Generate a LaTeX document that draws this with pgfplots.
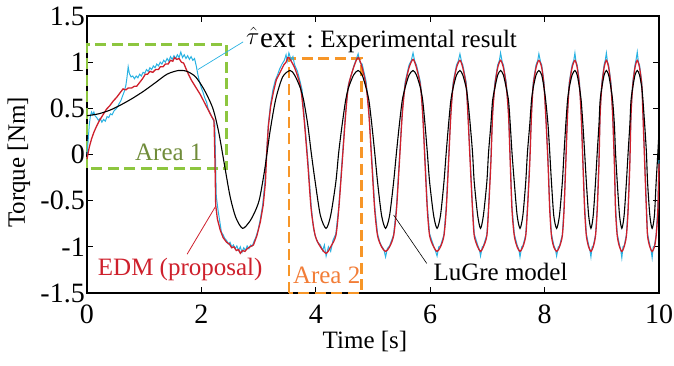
\documentclass[border=0pt]{standalone}
\usepackage{fontspec}
\setmainfont{Liberation Serif}
\usepackage{pgfplots}
\pgfplotsset{compat=1.18}
\definecolor{cexp}{RGB}{41,178,226}
\definecolor{cedm}{RGB}{206,32,44}
\definecolor{cgreen}{RGB}{141,198,63}
\definecolor{cgreentext}{RGB}{112,140,58}
\definecolor{corange}{RGB}{247,150,40}
\definecolor{corangetext}{RGB}{242,125,55}
\begin{document}
\begin{tikzpicture}
\useasboundingbox (-87pt,-73pt) rectangle (587pt,293pt);
\begin{axis}[
 scale only axis, width=572pt, height=277pt,
 xmin=0,xmax=10,ymin=-1.5,ymax=1.5,
 xtick={0,2,4,6,8,10}, xticklabels={0,2,4,6,8,10},
 ytick={-1.5,-1,-0.5,0,0.5,1,1.5}, yticklabels={-1.5,-1,-0.5,0,0.5,1,1.5},
 tick label style={font=\fontsize{28}{30}\selectfont, inner sep=2pt},
 xticklabel style={anchor=north, yshift=-10pt},
 tick align=inside, major tick length=6pt,
 tick style={black, line width=0.8pt},
 axis line style={line width=1.3pt},
 xlabel={Time [s]}, ylabel={Torque [Nm]},
 label style={font=\fontsize{25}{28}\selectfont},
 xlabel style={at={(axis description cs:0.486,-0.175)}, anchor=center},
 ylabel style={at={(axis description cs:-0.119,0.471)}, anchor=center},
 clip=false,
]
% annotation boxes
\draw[cgreen, line width=2.8pt, dash pattern=on 11pt off 5.5pt] (axis cs:0,-0.15) rectangle (axis cs:2.44,1.19);
\draw[corange, line width=2.8pt, dash pattern=on 11pt off 5.5pt] (axis cs:3.53,-1.5) rectangle (axis cs:4.80,1.04);

% Experimental (cyan)
\addplot[cexp, line width=1pt] coordinates {
(0,0.0)(0.02,0.15)(0.04,0.32)(0.06,0.42)(0.08,0.46)(0.1,0.43)(0.12,0.46)(0.14,0.42)(0.17,0.40)(0.2,0.37)(0.23,0.39)(0.26,0.35)(0.29,0.38)(0.32,0.36)(0.35,0.41)(0.38,0.40)(0.41,0.44)(0.44,0.43)(0.47,0.47)(0.5,0.49)(0.53,0.51)(0.56,0.55)(0.59,0.58)(0.62,0.63)(0.65,0.68)(0.68,0.75)(0.70,0.84)(0.72,0.95)(0.74,0.88)(0.77,0.84)(0.80,0.85)(0.83,0.82)(0.86,0.85)(0.89,0.83)(0.92,0.87)(0.95,0.85)(0.98,0.89)(1.01,0.88)(1.04,0.92)(1.07,0.90)(1.10,0.94)(1.13,0.92)(1.16,0.96)(1.19,0.94)(1.22,0.98)(1.25,0.96)(1.28,1.0)(1.31,0.98)(1.34,1.02)(1.37,1.0)(1.40,1.04)(1.43,1.01)(1.46,1.06)(1.49,1.03)(1.52,1.07)(1.55,1.04)(1.58,1.08)(1.61,1.05)(1.64,1.11)(1.67,1.05)(1.70,1.08)(1.73,1.04)(1.76,1.07)(1.79,1.03)(1.82,1.06)(1.85,1.02)(1.88,1.04)(1.91,0.96)(1.94,0.86)(1.97,0.78)(2.0,0.72)(2.03,0.67)(2.06,0.61)(2.09,0.57)(2.12,0.49)(2.15,0.45)(2.18,0.41)(2.21,0.37)(2.235,0.33)(2.245,0.0)(2.26,-0.45)(2.29,-0.60)(2.32,-0.72)(2.35,-0.84)(2.38,-0.87)(2.41,-0.91)(2.44,-0.93)(2.47,-0.97)(2.50,-0.95)(2.53,-1.0)(2.56,-0.98)(2.59,-1.02)(2.62,-0.99)(2.65,-1.04)(2.68,-1.0)(2.71,-1.06)(2.74,-1.01)(2.77,-1.04)(2.80,-0.99)(2.83,-1.02)(2.86,-0.98)(2.89,-0.99)(2.92,-0.94)(2.95,-0.90)(2.99,-0.82)(3.03,-0.70)(3.07,-0.55)(3.11,-0.3)(3.14,0.02)(3.17,0.33)(3.21,0.55)(3.25,0.70)(3.29,0.80)(3.33,0.86)(3.37,0.93)(3.41,0.98)(3.45,1.02)(3.48,1.08)(3.5,1.01)(3.53,1.10)
(3.57,1.02)(3.60,1.06)(3.63,0.97)(3.68,0.90)(3.73,0.78)(3.76,0.70)(3.79,0.47)(3.86,-0.05)(3.92,-0.56)(3.96,-0.80)(3.99,-0.88)(4.03,-0.95)(4.08,-0.98)(4.12,-1.04)(4.15,-0.98)
(4.18,-1.10)(4.22,-1.00)(4.26,-1.05)(4.30,-0.93)(4.35,-0.86)(4.40,-0.58)(4.46,-0.06)(4.52,0.45)(4.57,0.76)(4.62,0.86)(4.66,0.95)(4.70,1.02)
(4.74,1.09)(4.77,1.0)(4.81,0.98)(4.88,0.79)(4.93,0.45)(4.98,-0.05)(5.03,-0.56)(5.08,-0.86)(5.12,-0.95)(5.15,-0.99)(5.19,-1.03)
(5.22,-1.11)(5.25,-1.02)(5.29,-0.99)(5.36,-0.87)(5.41,-0.57)(5.46,-0.06)(5.51,0.45)(5.56,0.78)(5.63,0.97)(5.67,1.02)
(5.70,1.10)(5.73,1.01)(5.76,0.97)(5.83,0.78)(5.87,0.45)(5.91,-0.05)(5.95,-0.56)(5.99,-0.86)(6.06,-0.99)(6.09,-1.04)
(6.12,-1.10)(6.15,-1.0)(6.18,-0.99)(6.24,-0.87)(6.28,-0.57)(6.32,-0.06)(6.36,0.45)(6.40,0.78)(6.46,0.97)(6.49,1.01)
(6.52,1.09)(6.55,1.0)(6.57,0.97)(6.63,0.78)(6.66,0.45)(6.70,-0.05)(6.74,-0.56)(6.77,-0.86)(6.83,-0.98)(6.86,-1.03)
(6.88,-1.10)(6.91,-1.0)(6.93,-0.99)(6.99,-0.87)(7.02,-0.57)(7.06,-0.06)(7.09,0.45)(7.13,0.78)(7.18,0.97)(7.21,1.02)
(7.23,1.10)(7.26,1.0)(7.28,0.97)(7.33,0.78)(7.37,0.45)(7.40,-0.05)(7.43,-0.56)(7.47,-0.86)(7.52,-0.98)(7.55,-1.03)
(7.57,-1.11)(7.60,-1.0)(7.62,-0.99)(7.67,-0.87)(7.70,-0.57)(7.74,-0.06)(7.77,0.45)(7.80,0.78)(7.85,0.97)(7.88,1.02)
(7.90,1.09)(7.93,1.0)(7.95,0.97)(7.99,0.78)(8.02,0.45)(8.06,-0.05)(8.09,-0.56)(8.12,-0.86)(8.16,-0.98)(8.19,-1.03)
(8.21,-1.10)(8.24,-1.0)(8.26,-0.99)(8.31,-0.87)(8.34,-0.57)(8.37,-0.06)(8.40,0.45)(8.43,0.78)(8.48,0.97)(8.51,1.02)
(8.53,1.10)(8.55,1.0)(8.57,0.97)(8.61,0.78)(8.64,0.45)(8.67,-0.05)(8.70,-0.56)(8.73,-0.86)(8.77,-0.98)(8.79,-1.03)
(8.81,-1.11)(8.83,-1.0)(8.85,-0.99)(8.89,-0.87)(8.92,-0.57)(8.95,-0.06)(8.97,0.45)(9.00,0.78)(9.04,0.97)(9.06,1.02)
(9.08,1.10)(9.10,1.0)(9.12,0.97)(9.16,0.78)(9.19,0.45)(9.22,-0.05)(9.24,-0.56)(9.27,-0.86)(9.31,-0.98)(9.33,-1.03)
(9.35,-1.12)(9.37,-1.0)(9.39,-0.99)(9.43,-0.87)(9.46,-0.57)(9.49,-0.06)(9.51,0.45)(9.54,0.78)(9.58,0.97)(9.60,1.03)
(9.62,1.11)(9.64,1.0)(9.66,0.97)(9.70,0.78)(9.72,0.45)(9.75,-0.05)(9.78,-0.56)(9.80,-0.86)(9.84,-0.98)(9.86,-1.03)
(9.88,-1.12)(9.90,-1.0)(9.92,-0.99)(9.95,-0.87)(9.98,-0.57)(10.0,-0.06)
};

% EDM (red), first part
\addplot[cedm, line width=1.3pt] coordinates {
(0,-0.05)(0.04,0.08)(0.08,0.17)(0.12,0.24)(0.17,0.31)(0.22,0.37)(0.28,0.43)(0.34,0.49)(0.40,0.53)(0.46,0.58)(0.52,0.62)(0.58,0.67)(0.63,0.71)(0.68,0.70)(0.72,0.72)(0.78,0.72)(0.83,0.74)(0.87,0.74)(0.92,0.78)(0.97,0.82)(1.02,0.87)(1.06,0.87)(1.10,0.90)(1.15,0.89)(1.20,0.92)(1.25,0.92)(1.28,0.95)(1.33,0.95)(1.37,0.98)(1.42,0.98)(1.46,1.02)(1.50,1.01)(1.53,1.05)(1.57,1.03)(1.61,1.04)(1.65,1.00)(1.69,0.99)(1.73,0.93)(1.78,0.86)(1.83,0.80)(1.88,0.75)(1.93,0.70)(1.98,0.65)(2.03,0.59)(2.08,0.53)(2.13,0.47)(2.18,0.41)(2.22,0.37)(2.235,0.0)(2.25,-0.55)(2.28,-0.70)(2.33,-0.82)(2.38,-0.90)(2.44,-0.95)(2.49,-0.97)(2.53,-1.01)(2.57,-1.00)(2.61,-1.04)(2.65,-1.03)(2.68,-1.07)(2.72,-1.04)(2.76,-1.05)(2.80,-1.02)(2.85,-1.0)(2.91,-0.98)(2.97,-0.88)(3.03,-0.73)(3.08,-0.55)(3.12,-0.30)(3.14,0.0)(3.17,0.30)(3.21,0.52)(3.26,0.68)(3.31,0.81)(3.36,0.87)(3.40,0.92)(3.44,0.97)(3.48,1.00)(3.51,1.05)(3.53,1.05)
};
% EDM (red), periodic part
\addplot[cedm, line width=1.3pt, smooth, tension=0.45] coordinates {
(3.53,1.05)(3.63,0.94)(3.73,0.74)(3.79,0.42)(3.86,-0.10)(3.92,-0.60)(3.99,-0.88)(4.08,-1.00)
(4.18,-1.07)(4.26,-1.00)(4.35,-0.88)(4.40,-0.60)(4.46,-0.10)(4.52,0.42)(4.57,0.74)(4.66,0.94)
(4.74,1.05)(4.81,0.94)(4.88,0.74)(4.93,0.42)(4.98,-0.10)(5.03,-0.60)(5.08,-0.88)(5.15,-1.00)
(5.22,-1.05)(5.29,-1.00)(5.36,-0.88)(5.41,-0.60)(5.46,-0.10)(5.51,0.42)(5.56,0.74)(5.63,0.94)
(5.70,1.03)(5.76,0.94)(5.83,0.74)(5.87,0.42)(5.91,-0.10)(5.95,-0.60)(5.99,-0.88)(6.06,-1.00)
(6.12,-1.05)(6.18,-1.00)(6.24,-0.88)(6.28,-0.60)(6.32,-0.10)(6.36,0.42)(6.40,0.74)(6.46,0.94)
(6.52,1.02)(6.57,0.94)(6.63,0.74)(6.66,0.42)(6.70,-0.10)(6.74,-0.60)(6.77,-0.88)(6.83,-1.00)
(6.88,-1.05)(6.93,-1.00)(6.99,-0.88)(7.02,-0.60)(7.06,-0.10)(7.09,0.42)(7.13,0.74)(7.18,0.94)
(7.23,1.02)(7.28,0.94)(7.33,0.74)(7.37,0.42)(7.40,-0.10)(7.43,-0.60)(7.47,-0.88)(7.52,-1.00)
(7.57,-1.05)(7.62,-1.00)(7.67,-0.88)(7.70,-0.60)(7.74,-0.10)(7.77,0.42)(7.80,0.74)(7.85,0.94)
(7.90,1.02)(7.95,0.94)(7.99,0.74)(8.02,0.42)(8.06,-0.10)(8.09,-0.60)(8.12,-0.88)(8.16,-1.00)
(8.21,-1.05)(8.26,-1.00)(8.31,-0.88)(8.34,-0.60)(8.37,-0.10)(8.40,0.42)(8.43,0.74)(8.48,0.94)
(8.53,1.02)(8.57,0.94)(8.61,0.74)(8.64,0.42)(8.67,-0.10)(8.70,-0.60)(8.73,-0.88)(8.77,-1.00)
(8.81,-1.05)(8.85,-1.00)(8.89,-0.88)(8.92,-0.60)(8.95,-0.10)(8.97,0.42)(9.00,0.74)(9.04,0.94)
(9.08,1.02)(9.12,0.94)(9.16,0.74)(9.19,0.42)(9.22,-0.10)(9.24,-0.60)(9.27,-0.88)(9.31,-1.00)
(9.35,-1.05)(9.39,-1.00)(9.43,-0.88)(9.46,-0.60)(9.49,-0.10)(9.51,0.42)(9.54,0.74)(9.58,0.94)
(9.62,1.02)(9.66,0.94)(9.70,0.74)(9.72,0.42)(9.75,-0.10)(9.78,-0.60)(9.80,-0.88)(9.84,-1.00)
(9.88,-1.05)(9.92,-1.00)(9.95,-0.88)(9.98,-0.60)(10.0,-0.10)
};

% LuGre (black)
\addplot[black, line width=1.1pt, smooth, tension=0.45] coordinates {
(0,0.42)(0.2,0.44)(0.4,0.48)(0.6,0.54)(0.8,0.61)(1.0,0.69)(1.2,0.78)(1.4,0.87)(1.6,0.91)(1.75,0.90)(1.9,0.84)(2.05,0.70)(2.2,0.50)(2.3,0.25)(2.4,-0.10)(2.5,-0.45)(2.6,-0.68)(2.72,-0.80)(2.85,-0.72)(2.95,-0.60)(3.02,-0.47)(3.11,-0.15)(3.2,0.25)(3.3,0.60)(3.42,0.84)
(3.55,0.91)(3.63,0.86)(3.73,0.72)(3.79,0.58)(3.86,0.32)(3.92,0.02)(3.99,-0.30)(4.08,-0.66)
(4.18,-0.80)(4.26,-0.66)(4.35,-0.30)(4.40,0.02)(4.46,0.32)(4.52,0.58)(4.57,0.72)(4.66,0.86)
(4.74,0.91)(4.81,0.86)(4.88,0.72)(4.93,0.58)(4.98,0.32)(5.03,0.02)(5.08,-0.30)(5.15,-0.66)
(5.22,-0.80)(5.29,-0.66)(5.36,-0.30)(5.41,0.02)(5.46,0.32)(5.51,0.58)(5.56,0.72)(5.63,0.86)
(5.70,0.91)(5.76,0.86)(5.83,0.72)(5.87,0.58)(5.91,0.32)(5.95,0.02)(5.99,-0.30)(6.06,-0.66)
(6.12,-0.80)(6.18,-0.66)(6.24,-0.30)(6.28,0.02)(6.32,0.32)(6.36,0.58)(6.40,0.72)(6.46,0.86)
(6.52,0.91)(6.57,0.86)(6.63,0.72)(6.66,0.58)(6.70,0.32)(6.74,0.02)(6.77,-0.30)(6.83,-0.66)
(6.88,-0.80)(6.93,-0.66)(6.99,-0.30)(7.02,0.02)(7.06,0.32)(7.09,0.58)(7.13,0.72)(7.18,0.86)
(7.23,0.91)(7.28,0.86)(7.33,0.72)(7.37,0.58)(7.40,0.32)(7.43,0.02)(7.47,-0.30)(7.52,-0.66)
(7.57,-0.80)(7.62,-0.66)(7.67,-0.30)(7.70,0.02)(7.74,0.32)(7.77,0.58)(7.80,0.72)(7.85,0.86)
(7.90,0.91)(7.95,0.86)(7.99,0.72)(8.02,0.58)(8.06,0.32)(8.09,0.02)(8.12,-0.30)(8.16,-0.66)
(8.21,-0.80)(8.26,-0.66)(8.31,-0.30)(8.34,0.02)(8.37,0.32)(8.40,0.58)(8.43,0.72)(8.48,0.86)
(8.53,0.91)(8.57,0.86)(8.61,0.72)(8.64,0.58)(8.67,0.32)(8.70,0.02)(8.73,-0.30)(8.77,-0.66)
(8.81,-0.80)(8.85,-0.66)(8.89,-0.30)(8.92,0.02)(8.95,0.32)(8.97,0.58)(9.00,0.72)(9.04,0.86)
(9.08,0.91)(9.12,0.86)(9.16,0.72)(9.19,0.58)(9.22,0.32)(9.24,0.02)(9.27,-0.30)(9.31,-0.66)
(9.35,-0.80)(9.39,-0.66)(9.43,-0.30)(9.46,0.02)(9.49,0.32)(9.51,0.58)(9.54,0.72)(9.58,0.86)
(9.62,0.91)(9.66,0.86)(9.70,0.72)(9.72,0.58)(9.75,0.32)(9.78,0.02)(9.80,-0.30)(9.84,-0.66)
(9.88,-0.80)(9.92,-0.66)(9.95,-0.30)(9.98,0.02)(10.0,0.25)
};

% leader lines and labels
\draw[cexp, line width=0.7pt] (axis cs:1.94,0.92) -- (axis cs:2.73,1.22);
\draw[cedm, line width=0.8pt] (axis cs:2.24,-0.57) -- (axis cs:1.75,-1.08);
\draw[black, line width=0.6pt] (axis cs:5.36,-0.655) -- (axis cs:5.94,-1.18);

\node[anchor=west, inner sep=0pt, font=\fontsize{25}{28}\selectfont] at (axis cs:2.78,1.24)
  {\raisebox{3pt}{\fontsize{30}{30}\selectfont$\hat{\tau}$}\hspace{0.5pt}{\fontsize{29}{30}\selectfont ext}\hspace{11pt}:\hspace{7pt}Experimental result};
\node[text=cedm, font=\fontsize{25}{28}\selectfont] at (axis cs:1.63,-1.25) {EDM (proposal)};
\node[text=black, font=\fontsize{25}{28}\selectfont] at (axis cs:7.23,-1.27) {LuGre model};
\node[text=cgreentext, font=\fontsize{25}{28}\selectfont] at (axis cs:1.43,0.02) {Area 1};
\node[text=corangetext, font=\fontsize{25}{28}\selectfont] at (axis cs:4.19,-1.31) {Area 2};
\end{axis}
\end{tikzpicture}
\end{document}
